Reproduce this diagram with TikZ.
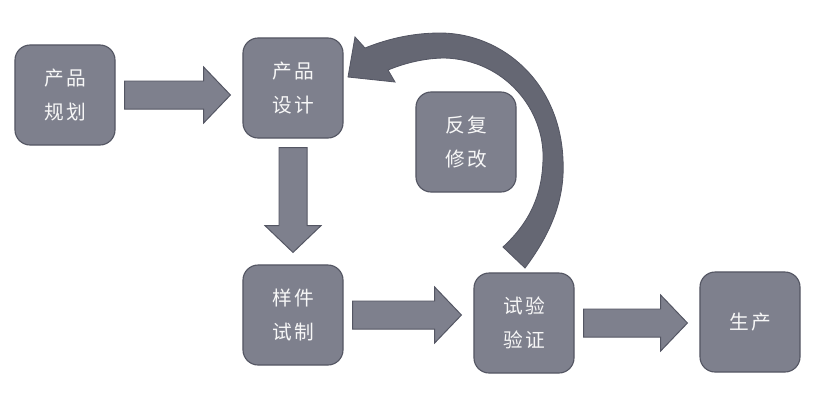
\documentclass[tikz,border=0pt]{standalone}
\usepackage{fontspec}
\newfontfamily\cjk[LetterSpace=12]{Noto Sans CJK SC}
\usepackage{xcolor}
\usepackage{tikz}
\usetikzlibrary{calc}

\definecolor{boxfill}{HTML}{7E808D}
\definecolor{boxline}{HTML}{545663}
\definecolor{loopfill}{HTML}{656773}

% fat block arrow between two points
\newcommand{\fatarrow}[2]{%
  \coordinate (fs) at ($(#1)!0.225cm!(#2)$);
  \coordinate (fe) at ($(#2)!0.3cm!(#1)$);
  \coordinate (fn) at ($(fe)!0.67cm!(fs)$);
  \draw[fat] ($(fs)!0.35cm!90:(fe)$) -- ($(fn)!0.35cm!-90:(fs)$)
    -- ($(fn)!0.7cm!-90:(fs)$) -- (fe) -- ($(fn)!0.7cm!90:(fs)$)
    -- ($(fn)!0.35cm!90:(fs)$) -- ($(fs)!0.35cm!-90:(fe)$) -- cycle;}

\begin{document}
\begin{tikzpicture}[x=0.025cm,y=-0.025cm,
        stage/.style={rectangle,rounded corners=0.38cm,draw=boxline,line width=0.8pt,
                      fill=boxfill,minimum size=2.5cm,align=center,
                      text=white!94!gray,font=\cjk\fontsize{14}{24}\selectfont},
        fat/.style={draw=boxline,line width=0.7pt,fill=boxfill,line join=miter},
        loop/.style={draw=boxline,line width=0.6pt,fill=loopfill}]
        \useasboundingbox (0,0) rectangle (814,417);
        \foreach \n/\x/\y/\lbl in {A/65/95/产品\\规划, B/293/88/产品\\设计,
                                   C/466/142/反复\\修改, D/293/315/样件\\试制,
                                   E/524/323/试验\\验证, F/750/322/生产}{
          \node[stage] (\n) at (\x,\y) {\lbl};
        }
        \fatarrow{A.east}{A.east -| B.west}
        \fatarrow{B.south}{D.north}
        \fatarrow{D.east}{D.east -| E.west}
        \fatarrow{E.east}{E.east -| F.west}
        % feedback loop from test back to design
        \draw[loop] (525,268) .. controls (552,232) and (565,198) .. (563,160)
          .. controls (560,82) and (502,33) .. (440,33)
          .. controls (410,33) and (385,40) .. (365,48)
          -- (355,37) -- (348,77) -- (395,82) -- (388,70)
          .. controls (405,63) and (425,58) .. (445,58)
          .. controls (505,60) and (545,110) .. (543,160)
          .. controls (542,195) and (530,222) .. (503,247) -- cycle;
      \end{tikzpicture}
\end{document}
